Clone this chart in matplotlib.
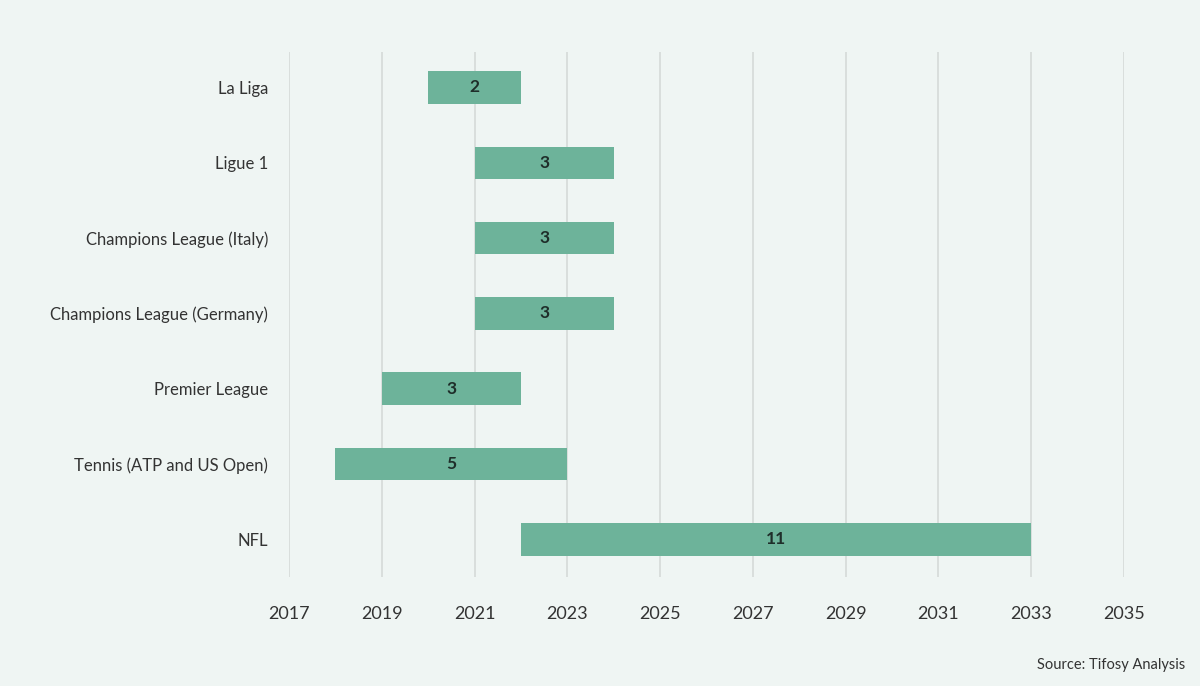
import matplotlib
matplotlib.use("Agg")
import matplotlib.pyplot as plt

plt.rcParams["font.family"] = ["Lato", "DejaVu Sans"]

leagues = ["La Liga", "Ligue 1", "Champions League (Italy)", "Champions League (Germany)",
           "Premier League", "Tennis (ATP and US Open)", "NFL"]
start_year = [2020, 2021, 2021, 2021, 2019, 2018, 2022]
end_year = [2022, 2024, 2024, 2024, 2022, 2023, 2033]
years = list(range(2017, 2036, 2))

bg = "#eff5f3"
bar_color = "#6db39a"
text_color = "#333333"

fig = plt.figure(figsize=(12, 6.86), dpi=100, facecolor=bg)
ax = fig.add_axes([0.2408, 0.1589, 0.6959, 0.7653])
ax.set_facecolor(bg)

durations = [e - s for s, e in zip(start_year, end_year)]
ypos = list(range(len(leagues)))
ax.barh(ypos, durations, left=start_year, height=0.43, color=bar_color, zorder=3)
for y, s, d in zip(ypos, start_year, durations):
    ax.text(s + d / 2, y, str(d), ha="center", va="center", fontsize=12.5,
            fontweight="bold", color="#1f2e2a", zorder=4)

ax.set_xlim(2017, 2035)
ax.set_ylim(len(leagues) - 0.5, -0.47)
ax.set_xticks(years)
ax.set_xticklabels([str(y) for y in years], fontsize=13, color=text_color)
ax.set_yticks(ypos)
ax.set_yticklabels(leagues, fontsize=12, color=text_color)
ax.tick_params(axis="both", length=0)
ax.tick_params(axis="x", pad=21)
ax.tick_params(axis="y", pad=15)
ax.grid(axis="x", color="#d3d8d6", linewidth=1.1, zorder=0)
for sp in ax.spines.values():
    sp.set_visible(False)

fig.text(0.988, 0.030, "Source: Tifosy Analysis", ha="right", va="center",
         fontsize=10.5, color=text_color)

fig.savefig("out.png", dpi=100, facecolor=bg)
